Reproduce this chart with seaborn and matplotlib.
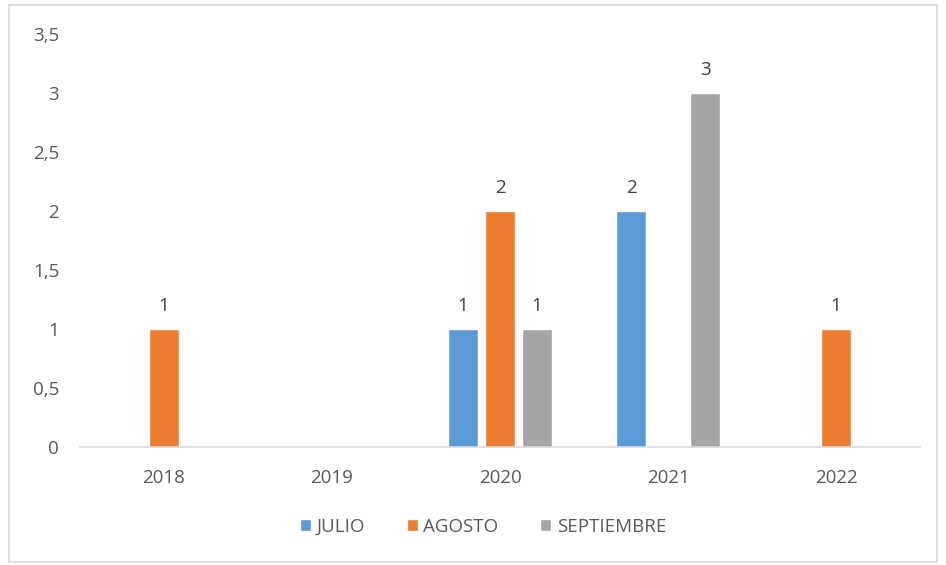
import matplotlib
matplotlib.use("Agg")
import matplotlib.pyplot as plt
from matplotlib.patches import Rectangle
from matplotlib.ticker import FuncFormatter, MultipleLocator
import seaborn as sns
import pandas as pd

years = ["2018", "2019", "2020", "2021", "2022"]
months = ["JULIO", "AGOSTO", "SEPTIEMBRE"]
julio = [0, 0, 1, 2, 0]
agosto = [1, 0, 2, 0, 1]
septiembre = [0, 0, 1, 3, 0]
colors = ["#5B9BD5", "#ED7D31", "#A5A5A5"]

rows = []
for name, vals in zip(months, [julio, agosto, septiembre]):
    for y, v in zip(years, vals):
        rows.append({"year": y, "mes": name, "valor": v})
df = pd.DataFrame(rows)

sns.set_theme(style="white")
plt.rcParams["font.family"] = ["Open Sans", "DejaVu Sans"]

fig = plt.figure(figsize=(9.46, 5.65), dpi=100)
ax = fig.add_axes([0.0846, 0.2088, 0.888, 0.731])

sns.barplot(data=df, x="year", y="valor", hue="mes", order=years, hue_order=months,
            palette=colors, width=0.66, gap=0.2, saturation=1, errorbar=None, ax=ax)

for cont in ax.containers:
    labels = [f"{v:g}" if v > 0 else "" for v in cont.datavalues]
    ax.bar_label(cont, labels=labels, padding=10, fontsize=13.5, color="#404040")

ax.set_xlim(-0.5, 4.5)
ax.set_ylim(0, 3.5)
ax.yaxis.set_major_locator(MultipleLocator(0.5))
ax.yaxis.set_major_formatter(FuncFormatter(lambda v, p: f"{v:g}".replace(".", ",")))
ax.set_xlabel("")
ax.set_ylabel("")
for s in ["top", "right", "left"]:
    ax.spines[s].set_visible(False)
ax.spines["bottom"].set_color("#D9D9D9")
ax.spines["bottom"].set_linewidth(1.2)
ax.tick_params(axis="both", length=0, labelsize=13.5, labelcolor="#595959")
ax.tick_params(axis="y", pad=15)
ax.tick_params(axis="x", pad=16)

handles, lbls = ax.get_legend_handles_labels()
ax.legend(handles, lbls, loc="center", ncol=3, frameon=False, fontsize=13.5,
          handlelength=0.6, handleheight=0.6, handletextpad=0.3, columnspacing=2.2,
          labelcolor="#595959", bbox_to_anchor=(483 / 946, 38 / 565),
          bbox_transform=fig.transFigure)

fig.patches.append(Rectangle((9 / 946, 3 / 565), 928 / 946, 557 / 565, transform=fig.transFigure,
                             fill=False, edgecolor="#D9D9D9", linewidth=1.2))

fig.savefig("out.png", dpi=100)
